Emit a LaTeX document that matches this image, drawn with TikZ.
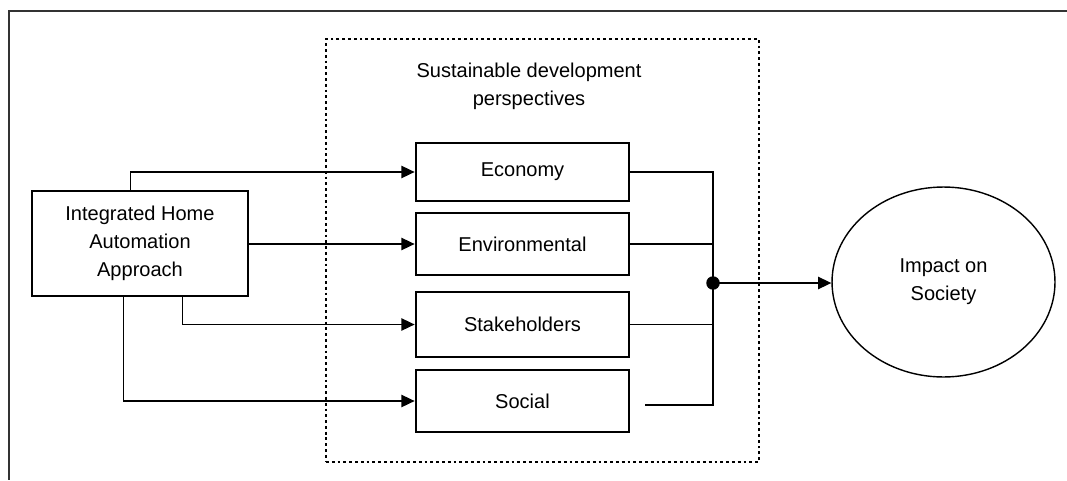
\documentclass[tikz,border=0pt]{standalone}
\usepackage{fontspec}
\setmainfont{Liberation Sans}
\usepackage{tikz}
\usetikzlibrary{arrows.meta, shapes}

\begin{document}
\begin{tikzpicture}[x=0.02cm, y=-0.02cm,
  every node/.style={font=\fontsize{11.4}{16}\selectfont, align=center}]
\useasboundingbox (0,0) rectangle (1067,480);
\draw[line width=0.9pt, black!80] (1067,11) -- (9,11) -- (9,480);

\begin{scope}[every node/.style={draw, line width=1.6pt, font=\fontsize{11.4}{16}\selectfont,
                                 align=center, minimum width=4.26cm, minimum height=1.24cm}]
    \node[minimum width=4.32cm, minimum height=2.1cm] (iha) at (140,243.5) {Integrated Home\\Automation\\Approach};
    \node[minimum height=1.16cm] (eco) at (522.5,172) {Economy};
    \node (env) at (522.5,244) {Environmental};
    \node[minimum height=1.3cm] (stk) at (522.5,324.5) {Stakeholders};
    \node (soc) at (522.5,401) {Social};
\end{scope}

\node[draw, line width=1.6pt, dash pattern=on 1.6pt off 1.7pt,
      minimum width=8.66cm, minimum height=8.46cm] (sdp) at (542.5,250.5) {};
\node (title) at (529,86) {Sustainable development\\perspectives};

\node[draw, ellipse, line width=0.8pt, minimum width=4.46cm, minimum height=3.8cm] (imp) at (943.5,282) {Impact on\\Society};
\node[circle, fill=black, inner sep=0pt, minimum size=0.27cm] (jn) at (713,283) {};
\coordinate (socend) at (645,405);

\begin{scope}[>={Triangle[length=7.5pt,width=7pt]}, line width=0.75pt]
    \draw[->] (iha.north west) ++(100,0) |- (eco.west);
    \path[->] (iha.east |- env.west) edge[draw] (env.west);
    \draw[->] (iha.south west) ++(152,0) |- (stk.west);
    \draw[->] (iha.south west) ++(93,0) |- (soc.west);
    \draw (eco.east) -| (jn.center) |- (socend);
    \draw (env.east) -- (env.east -| jn.center);
    \draw (stk.east) -- (stk.east -| jn.center);
    \draw[->] (jn.center) -- (jn.center -| imp.west);
\end{scope}

\end{tikzpicture}
\end{document}
